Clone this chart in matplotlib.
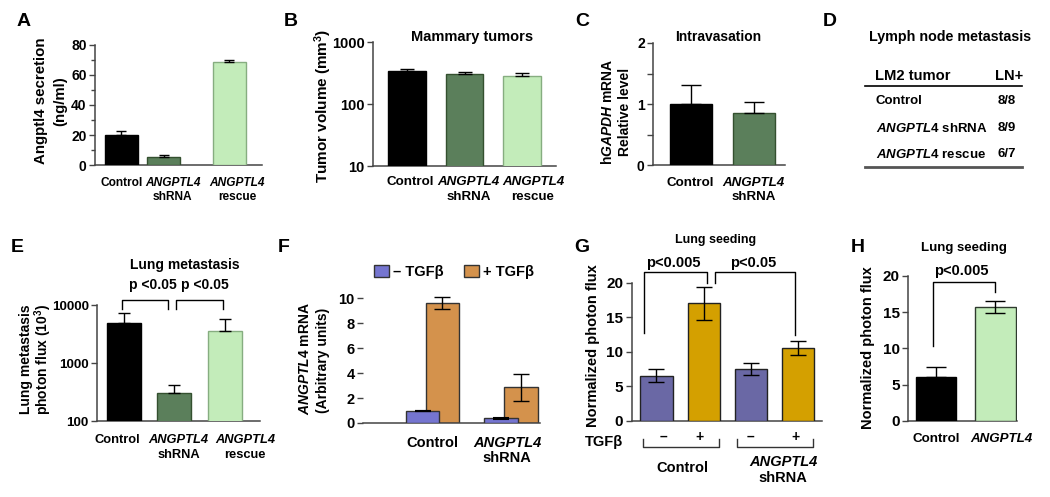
import matplotlib
matplotlib.use("Agg")
import matplotlib.pyplot as plt
from matplotlib.transforms import blended_transform_factory as blend
from matplotlib.lines import Line2D
from matplotlib.patches import Patch
from matplotlib.ticker import MultipleLocator, NullLocator

plt.rcParams.update({
    'font.family': ['Liberation Sans', 'DejaVu Sans'],
    'font.weight': 'bold',
    'mathtext.fontset': 'custom',
    'mathtext.rm': 'Liberation Sans:bold',
    'mathtext.it': 'Liberation Sans:italic:bold',
    'mathtext.bf': 'Liberation Sans:bold',
    'mathtext.default': 'rm',
    'axes.linewidth': 1.1,
    'axes.edgecolor': '#444444',
    'ytick.color': '#444444',
    'ytick.labelcolor': 'black',
    'ytick.labelsize': 9.5,
})

# ---------------- data ----------------
A_values = [20.0, 5.5, 69.0]
A_err = [2.5, 1.5, 1.0]

B_values = [340, 305, 283]
B_err = [27, 27, 37]

C_values = [1.0, 0.85]
C_err = [0.31, 0.18]

D_rows = ["Control", "$\\mathit{ANGPTL4}$ shRNA", "$\\mathit{ANGPTL4}$ rescue"]
D_ln = ["8/8", "8/9", "6/7"]

E_values = [4830, 300, 3600]
E_err = [2350, 117, 2140]

F_groups = ["Control", "ANGPTL4"]
F_minus = [1.0, 0.38]
F_minus_err = [0.0, 0.03]
F_plus = [9.6, 2.86]
F_plus_err = [0.48, 1.1]

G_values = [6.55, 17.0, 7.47, 10.6]
G_err = [0.95, 2.45, 0.85, 1.0]
G_tgfb = ["\u2013", "+", "\u2013", "+"]

H_values = [6.1, 15.7]
H_err = [1.33, 0.85]

# ---------------- colours ----------------
BLACK = 'black'
DKGREEN, DKGREEN_E = '#5b7f5b', '#34502f'
LTGREEN, LTGREEN_E = '#c3ecba', '#86ad80'
F_BLUE, F_ORANGE = '#7575d0', '#d4924c'
G_BLUE, G_GOLD = '#6a68a5', '#d4a000'

W, H = 1050, 497
fig = plt.figure(figsize=(W / 100, H / 100), dpi=100)


def add_ax(l, r, t, b):
    return fig.add_axes([l / W, 1 - b / H, (r - l) / W, (b - t) / H])


def ftext(x, y, s, **kw):
    kw.setdefault('ha', 'center')
    kw.setdefault('va', 'center')
    return fig.text(x / W, 1 - y / H, s, **kw)


def style(ax, left=True):
    ax.spines['top'].set_visible(False)
    ax.spines['right'].set_visible(False)
    ax.tick_params(axis='x', length=0, labelbottom=False)
    ax.tick_params(axis='y', which='major', direction='out', length=4, width=1, pad=2)
    ax.tick_params(axis='y', which='minor', direction='out', length=3, width=1)
    ax.patch.set_alpha(0)
    if not left:
        ax.spines['left'].set_visible(False)


def catlabel(ax, x, y_px, s, size, fs='normal'):
    tr = blend(ax.transData, fig.transFigure)
    ax.text(x, 1 - y_px / H, s, transform=tr, ha='center', va='center',
            fontsize=size, fontstyle=fs, clip_on=False)


def ebar(ax, x, y, lo, hi, cap, lw=1.0):
    ax.errorbar(x, y, yerr=[lo, hi], fmt='none', ecolor='black', elinewidth=lw,
                capsize=cap, capthick=lw, zorder=4, clip_on=False)


def bracket(ax, x0, x1, y0, ytop, y1, lw=1.0):
    ax.plot([x0, x0, x1, x1], [y0, ytop, ytop, y1], color='black', lw=lw,
            clip_on=False, zorder=5)


# ================= A =================
axA = add_ax(95, 262, 45, 165)
style(axA)
A_pos = [0, 1.29, 3.27]
axA.bar(A_pos, A_values, width=1.0, color=[BLACK, DKGREEN, LTGREEN],
        edgecolor=[BLACK, DKGREEN_E, LTGREEN_E], linewidth=1, zorder=3)
ebar(axA, A_pos, A_values, [0, 0, 0], A_err, 3.6)
axA.set_xlim(-0.80, 4.26)
axA.set_ylim(0, 80)
axA.set_yticks([0, 20, 40, 60, 80])
axA.yaxis.set_minor_locator(MultipleLocator(10))
axA.tick_params(axis='y', labelsize=10)
A_lab = [0, 1.55, 3.5]
catlabel(axA, A_lab[0], 182.7, "Control", 8.6)
catlabel(axA, A_lab[1], 182.7, "ANGPTL4", 8.6, 'italic')
catlabel(axA, A_lab[1], 197, "shRNA", 8.6)
catlabel(axA, A_lab[2], 182.7, "ANGPTL4", 8.6, 'italic')
catlabel(axA, A_lab[2], 197, "rescue", 8.6)
ftext(41, 101, "Angptl4 secretion", rotation=90, fontsize=10.8)
ftext(60, 101, "(ng/ml)", rotation=90, fontsize=10.8)

# ================= B =================
axB = add_ax(373, 556, 42, 166)
style(axB)
B_pos = [0, 1, 2]
axB.set_yscale('log')
axB.bar(B_pos, B_values, width=0.66, color=[BLACK, DKGREEN, LTGREEN],
        edgecolor=[BLACK, DKGREEN_E, LTGREEN_E], linewidth=1, zorder=3)
ebar(axB, B_pos, B_values, [0, 0, 0], B_err, 5)
axB.set_xlim(-0.59, 2.59)
axB.set_ylim(10, 1000)
axB.yaxis.set_minor_locator(NullLocator())
axB.set_yticks([10, 100, 1000])
axB.set_yticklabels(["10", "100", "1000"])
axB.tick_params(axis='y', labelsize=10.5)
B_lab = [0.05, 1.07, 2.19]
catlabel(axB, B_lab[0], 182, "Control", 9.6)
catlabel(axB, B_lab[1], 182, "ANGPTL4", 9.6, 'italic')
catlabel(axB, B_lab[1], 197.5, "shRNA", 9.6)
catlabel(axB, B_lab[2], 182, "ANGPTL4", 9.6, 'italic')
catlabel(axB, B_lab[2], 197.5, "rescue", 9.6)
ftext(323, 106, "Tumor volume (mm$^3$)", rotation=90, fontsize=11)
ftext(472, 37, "Mammary tumors", fontsize=10.5)

# ================= C =================
axC = add_ax(653, 785, 43, 165)
style(axC)
C_pos = [0, 1]
axC.bar(C_pos, C_values, width=0.67, color=[BLACK, DKGREEN],
        edgecolor=[BLACK, DKGREEN_E], linewidth=1, zorder=3)
ebar(axC, C_pos, C_values, [0, 0], C_err, 7)
axC.set_xlim(-0.6, 1.5)
axC.set_ylim(0, 2)
axC.set_yticks([0, 1, 2])
axC.yaxis.set_minor_locator(MultipleLocator(0.5))
axC.tick_params(axis='y', which='minor', length=4)
axC.tick_params(axis='y', labelsize=10)
catlabel(axC, 0, 182.5, "Control", 9.6)
catlabel(axC, 1, 183, "ANGPTL4", 9.6, 'italic')
catlabel(axC, 1, 197, "shRNA", 9.6)
ftext(608, 112, "h$\\mathit{GAPDH}$ mRNA", rotation=90, fontsize=10)
ftext(625, 112, "Relative level", rotation=90, fontsize=10)
ftext(718, 37, "Intravasation", fontsize=10)

# ================= D (table) =================
ftext(950, 37, "Lymph node metastasis", fontsize=10.3)
ftext(875, 76, "LM2 tumor", ha='left', fontsize=10.6)
ftext(1023, 76, "LN+", ha='right', fontsize=10.6)
fig.add_artist(Line2D([865 / W, 1022 / W], [1 - 86 / H] * 2, transform=fig.transFigure,
                      color='black', lw=1.2))
fig.add_artist(Line2D([865 / W, 1022 / W], [1 - 167 / H] * 2, transform=fig.transFigure,
                      color='#555555', lw=2))
for i, (row, ln) in enumerate(zip(D_rows, D_ln)):
    yy = [101, 128, 154][i]
    ftext(876, yy, row, ha='left', fontsize=9.5)
    ftext(1016, yy, ln, ha='right', fontsize=9.5)

# ================= E =================
axE = add_ax(97, 260, 305, 421)
style(axE)
E_pos = [0, 1, 2]
axE.set_yscale('log')
axE.bar(E_pos, E_values, width=0.67, color=[BLACK, DKGREEN, LTGREEN],
        edgecolor=[BLACK, DKGREEN_E, LTGREEN_E], linewidth=1, zorder=3)
ebar(axE, E_pos, E_values, [0, 0, 0], E_err, 4.5)
axE.set_xlim(-0.53, 2.69)
axE.set_ylim(100, 10000)
axE.yaxis.set_minor_locator(NullLocator())
axE.set_yticks([100, 1000, 10000])
axE.set_yticklabels(["100", "1000", "10000"])
axE.tick_params(axis='y', labelsize=9.6)
E_lab = [-0.13, 1.08, 2.39]
catlabel(axE, E_lab[0], 440, "Control", 9.3)
catlabel(axE, E_lab[1], 440, "ANGPTL4", 9.3, 'italic')
catlabel(axE, E_lab[1], 455, "shRNA", 9.3)
catlabel(axE, E_lab[2], 440, "ANGPTL4", 9.3, 'italic')
catlabel(axE, E_lab[2], 455, "rescue", 9.3)
bracket(axE, -0.04, 0.87, 8530, 12200, 8530)
bracket(axE, 1.03, 1.96, 8530, 12200, 8530)
axE.text(0.57, 22100, "p <0.05", ha='center', va='center', fontsize=10, clip_on=False)
axE.text(1.60, 22100, "p <0.05", ha='center', va='center', fontsize=10, clip_on=False)
ftext(185, 265, "Lung metastasis", fontsize=10)
ftext(26, 359, "Lung metastasis", rotation=90, fontsize=10)
ftext(43, 359, "photon flux (10$^3$)", rotation=90, fontsize=10)

# ================= F =================
axF = add_ax(363, 540, 298.3, 423)
style(axF, left=False)
F_pos = [0, 1]
off, bw = 0.126, 0.427
pm = [p - off for p in F_pos]
pp = [p + off for p in F_pos]
axF.bar(pp, F_plus, width=bw, color=F_ORANGE, edgecolor='#333333', linewidth=1, zorder=2)
axF.bar(pm, F_minus, width=bw, color=F_BLUE, edgecolor='#333333', linewidth=1, zorder=3)
ebar(axF, pp, F_plus, F_plus_err, F_plus_err, 5.5)
ebar(axF, pm, F_minus, F_minus_err, F_minus_err, 5.5, lw=1.5)
axF.set_xlim(-0.884, 1.37)
axF.set_ylim(0, 10)
axF.set_yticks([0, 2, 4, 6, 8, 10])
axF.tick_params(axis='y', labelsize=10.5)
catlabel(axF, 0, 443, "Control", 10.5)
catlabel(axF, 0.95, 443, "ANGPTL4", 10.5, 'italic')
catlabel(axF, 0.95, 458, "shRNA", 10.5)
ftext(305, 359, "$\\mathit{ANGPTL4}$ mRNA", rotation=90, fontsize=10)
ftext(323, 360, "(Arbitrary units)", rotation=90, fontsize=10)
axF.legend(handles=[Patch(facecolor=F_BLUE, edgecolor='#333333', label="\u2013 TGF\u03b2"),
                    Patch(facecolor=F_ORANGE, edgecolor='#333333', label="+ TGF\u03b2")],
           ncol=2, frameon=False, loc='center', bbox_to_anchor=(454 / W, 1 - 272 / H),
           bbox_transform=fig.transFigure, fontsize=10.5, handlelength=1.0,
           handleheight=0.8, handletextpad=0.3, columnspacing=1.4)

# ================= G =================
axG = add_ax(631.7, 821.7, 282.7, 421)
style(axG)
G_pos = [0, 1, 2, 3]
axG.bar(G_pos, G_values, width=0.68, color=[G_BLUE, G_GOLD, G_BLUE, G_GOLD],
        edgecolor='#222222', linewidth=1, zorder=3)
ebar(axG, G_pos, G_values, G_err, G_err, 5.8)
axG.set_xlim(-0.525, 3.5)
axG.set_ylim(0, 20)
axG.set_yticks([0, 5, 10, 15, 20])
axG.tick_params(axis='y', labelsize=11)
bracket(axG, -0.26, 1.06, 12.7, 21.5, 20.0)
bracket(axG, 1.24, 2.93, 20.0, 21.5, 12.5)
axG.text(0.35, 22.9, "p<0.005", ha='center', va='center', fontsize=10.5, clip_on=False)
axG.text(2.04, 22.9, "p<0.05", ha='center', va='center', fontsize=10.5, clip_on=False)
ftext(716, 240, "Lung seeding", fontsize=9)
G_sign_x = [0.14, 0.92, 2.0, 2.95]
for sx, sg in zip(G_sign_x, G_tgfb):
    catlabel(axG, sx, 437, sg, 10)
catlabel(axG, -1.11, 441.7, "TGF\u03b2", 10.5)
trG = blend(axG.transData, fig.transFigure)
for a, b in [(-0.29, 1.32), (1.7, 3.31)]:
    axG.plot([a, a, b, b], [1 - 439 / H, 1 - 447.3 / H, 1 - 447.3 / H, 1 - 439 / H],
             color='#333333', lw=1, transform=trG, clip_on=False)
catlabel(axG, 0.54, 467.7, "Control", 10.5)
catlabel(axG, 2.68, 461.7, "ANGPTL4", 10.5, 'italic')
catlabel(axG, 2.68, 478.3, "shRNA", 10.5)
ftext(593, 346, "Normalized photon flux", rotation=90, fontsize=10.5)

# ================= H =================
axH = add_ax(908.3, 1017, 275.7, 421)
style(axH)
H_pos = [0, 1]
axH.bar(H_pos, H_values, width=0.69, color=[BLACK, LTGREEN],
        edgecolor=[BLACK, '#2e3a2e'], linewidth=1, zorder=3)
ebar(axH, H_pos, H_values, [0, H_err[1]], H_err, 7)
axH.set_xlim(-0.47, 1.37)
axH.set_ylim(0, 20)
axH.set_yticks([0, 5, 10, 15, 20])
axH.tick_params(axis='y', labelsize=11)
bracket(axH, -0.06, 0.995, 10.3, 19.1, 17.8)
axH.text(0.43, 20.7, "p<0.005", ha='center', va='center', fontsize=10.5, clip_on=False)
ftext(964, 248, "Lung seeding", fontsize=9.5)
catlabel(axH, 0, 439.3, "Control", 9.6)
catlabel(axH, 1.1, 439.3, "ANGPTL4", 9.6, 'italic')
ftext(868, 348, "Normalized photon flux", rotation=90, fontsize=10.5)

# ================= panel letters =================
for lt, x, y in [("A", 24, 21), ("B", 291, 21), ("C", 582, 21), ("D", 830, 21),
                 ("E", 17, 247), ("F", 284, 247), ("G", 582, 247), ("H", 858, 247)]:
    ftext(x, y, lt, fontsize=14)

fig.savefig("out.png", dpi=100)
